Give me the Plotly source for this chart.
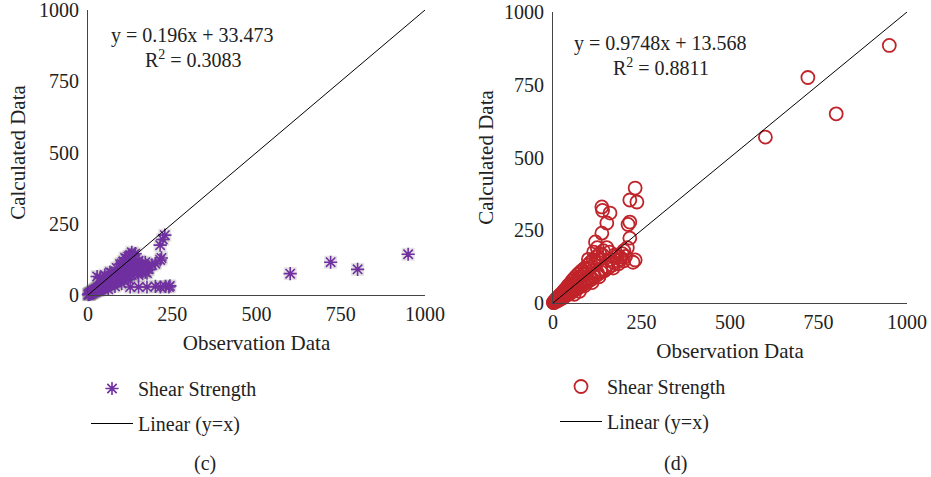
import plotly.graph_objects as go

# ---------------- data ----------------
# panel (c): observation vs calculated
obs_c = [1, 2, 3, 4, 5, 6, 8, 10, 12, 14, 15, 17, 19, 20, 22, 24, 25, 28, 30, 32,
         35, 38, 40, 42, 45, 48, 50, 55, 58, 60, 65, 70, 72, 75, 80, 85, 88, 90, 95, 100,
         105, 110, 115, 120, 125, 130, 135, 140, 150, 160, 170,
         27, 36, 50, 65, 100, 125, 130, 140, 110,
         60, 80, 100, 120, 150, 180, 200,
         5, 8, 10, 12, 15, 18, 20, 22, 25, 28, 30, 33, 35, 38, 40, 45, 48, 50, 55, 60,
         62, 65, 68, 70, 75, 78, 80, 85, 90, 92, 95, 98, 100, 105, 108, 112, 115, 118,
         120, 125, 128, 130, 135, 138, 142, 145, 148, 155, 160, 165, 170, 175, 180, 190,
         45, 55, 70, 85, 95, 105, 115, 120, 135,
         214, 222, 228, 214, 218, 125, 150, 175, 200, 215, 230, 240, 243,
         600, 720, 800, 950]
calc_c = [1, 2, 3, 3, 5, 5, 7, 9, 10, 12, 14, 14, 17, 16, 19, 20, 22, 23, 27, 26,
          30, 31, 35, 34, 38, 40, 44, 45, 50, 48, 55, 58, 62, 60, 68, 70, 76, 72, 80, 82,
          88, 90, 96, 98, 105, 108, 112, 115, 120, 110, 115,
          65, 60, 70, 80, 110, 140, 150, 145, 130,
          20, 30, 40, 55, 70, 90, 110,
          3, 5, 6, 8, 9, 11, 12, 14, 15, 17, 16, 20, 18, 22, 20, 24, 26, 28, 30, 33,
          38, 35, 42, 40, 45, 50, 44, 52, 55, 62, 50, 66, 60, 70, 62, 75, 65, 82,
          72, 80, 92, 70, 95, 85, 100, 90, 78, 95, 85, 100, 80, 77, 100, 105,
          50, 62, 78, 95, 108, 118, 128, 135, 140,
          175, 195, 210, 123, 130, 28, 28, 28, 30, 28, 30, 28, 32,
          75, 115, 90, 143]

# panel (d): observation vs calculated
obs_d = [1, 2, 3, 4, 5, 6, 8, 9, 10, 12, 13, 15, 16, 18, 20, 22, 24, 25, 27, 30,
         32, 35, 38, 40, 42, 45, 48, 50, 52, 55, 58, 60, 63, 65, 68, 70, 72, 75, 78, 80,
         85, 88, 90, 95, 100, 105, 110, 115, 120, 125, 130, 135, 140, 150, 160, 170, 180,
         190, 200, 60, 75, 90, 110, 130, 100, 115, 125, 120, 170, 185,
         5, 8, 10, 12, 15, 18, 20, 22, 25, 28, 30, 33, 35, 38, 40, 43, 46, 48, 50, 53,
         56, 58, 60, 64, 66, 70, 72, 76, 80, 82, 86, 90, 94, 98, 102, 106, 110, 114,
         118, 122, 126, 132, 136, 142, 146, 152, 156, 162, 168, 175, 182, 195, 205, 210, 200,
         138, 140, 161, 152, 217, 232, 237, 217, 212, 217, 138, 232, 226, 189,
         600, 720, 800, 950]
calc_d = [2, 1, 4, 3, 6, 5, 9, 7, 12, 10, 15, 13, 19, 15, 24, 18, 28, 21, 32, 26,
          38, 30, 45, 33, 50, 38, 56, 42, 60, 46, 66, 50, 72, 55, 78, 58, 85, 62, 90, 68,
          98, 72, 105, 80, 118, 88, 125, 95, 140, 105, 150, 115, 165, 125, 175, 140, 160,
          150, 180, 30, 40, 60, 70, 90, 150, 175, 190, 210, 120, 135,
          8, 12, 6, 18, 9, 25, 12, 30, 16, 38, 20, 45, 24, 52, 28, 60, 32, 66, 35, 75,
          40, 82, 44, 90, 48, 98, 52, 105, 58, 112, 64, 120, 70, 130, 76, 140, 82, 148,
          90, 158, 98, 170, 106, 180, 112, 190, 120, 150, 130, 165, 145, 170, 160, 190, 145,
          330, 318, 309, 275, 354, 395, 347, 278, 270, 223, 240, 148, 140, 158,
          570, 775, 650, 885]

line_xy = [0, 1000]
ticks = [0, 250, 500, 750, 1000]
tick_text = ["0", "250", "500", "750", "1000"]

eq_c = ["y = 0.196x + 33.473", "R<sup>2</sup> = 0.3083"]
eq_d = ["y = 0.9748x + 13.568", "R<sup>2</sup> = 0.8811"]
panel_labels = ["(c)", "(d)"]

PURPLE = "#7030A0"
RED = "#C0242A"
SERIF = "Liberation Serif, Times New Roman, serif"
W, H = 931, 477


def px(x):
    return x / W


def py(y):
    return 1 - y / H


fig = go.Figure()

# ---- panel (c) ----
fig.add_trace(go.Scatter(x=obs_c, y=calc_c, mode="markers", xaxis="x", yaxis="y",
                         marker=dict(symbol="square", size=13, color="rgba(120,120,120,0.20)",
                                     line=dict(width=0)),
                         showlegend=False, hoverinfo="skip", cliponaxis=False))
fig.add_trace(go.Scatter(x=obs_c, y=calc_c, mode="markers", name="Shear Strength",
                         xaxis="x", yaxis="y", legend="legend", legendgroup="a",
                         marker=dict(symbol="asterisk-open", size=11, color=PURPLE,
                                     line=dict(color=PURPLE, width=1.6)),
                         cliponaxis=False))
fig.add_trace(go.Scatter(x=line_xy, y=line_xy, mode="lines", name="Linear (y=x)",
                         xaxis="x", yaxis="y", legend="legend", legendgroup="b",
                         line=dict(color="black", width=1), cliponaxis=False))

# ---- panel (d) ----
fig.add_trace(go.Scatter(x=obs_d, y=calc_d, mode="markers", name="Shear Strength",
                         xaxis="x2", yaxis="y2", legend="legend2", legendgroup="c",
                         marker=dict(symbol="circle-open", size=13, color=RED,
                                     line=dict(color=RED, width=1.8)),
                         cliponaxis=False))
fig.add_trace(go.Scatter(x=line_xy, y=line_xy, mode="lines", name="Linear (y=x)",
                         xaxis="x2", yaxis="y2", legend="legend2", legendgroup="d",
                         line=dict(color="black", width=1), cliponaxis=False))

axis_common = dict(range=[0, 1000], tickvals=ticks, ticktext=tick_text,
                   showgrid=False, zeroline=False, showline=True,
                   linecolor="#444", linewidth=1, ticks="", automargin=False,
                   ticklabeloverflow="allow",
                   tickfont=dict(family=SERIF, size=20, color="#222"),
                   fixedrange=True)
title_font = dict(family=SERIF, size=21, color="#222")
leg_font = dict(family=SERIF, size=20, color="#222")

fig.update_layout(
    width=W, height=H,
    margin=dict(l=0, r=0, t=0, b=0, autoexpand=False),
    paper_bgcolor="white", plot_bgcolor="white",
    xaxis=dict(domain=[px(88), px(425)], anchor="y", ticklabelstandoff=1,
               title=dict(text="Observation Data", standoff=11, font=title_font),
               **axis_common),
    yaxis=dict(domain=[py(295), py(10)], anchor="x", ticklabelstandoff=4,
               title=dict(text="Calculated Data", standoff=7, font=title_font),
               **axis_common),
    xaxis2=dict(domain=[px(553), px(907)], anchor="y2", ticklabelstandoff=1,
                title=dict(text="Observation Data", standoff=11, font=title_font),
                **axis_common),
    yaxis2=dict(domain=[py(303), py(12)], anchor="x2", ticklabelstandoff=4,
                title=dict(text="Calculated Data", standoff=4, font=title_font),
                **axis_common),
    legend=dict(x=px(86), y=py(369), xanchor="left", yanchor="top",
                font=leg_font, tracegroupgap=6, itemwidth=42,
                bgcolor="rgba(0,0,0,0)", traceorder="grouped"),
    legend2=dict(x=px(555), y=py(367), xanchor="left", yanchor="top",
                 font=leg_font, tracegroupgap=6, itemwidth=42,
                 bgcolor="rgba(0,0,0,0)", traceorder="grouped"),
)

ann_font = dict(family=SERIF, size=20, color="#222")
for text, xx, yy in [(eq_c[0], 192, 35), (eq_c[1], 193, 59),
                     (eq_d[0], 660, 43), (eq_d[1], 661, 67),
                     (panel_labels[0], 205, 463), (panel_labels[1], 675, 463)]:
    fig.add_annotation(x=px(xx), y=py(yy), xref="paper", yref="paper", text=text,
                       showarrow=False, xanchor="center", yanchor="middle",
                       font=ann_font)

fig.write_html("out.html", config={"displayModeBar": False},
               post_script="document.body.style.margin='0';")
